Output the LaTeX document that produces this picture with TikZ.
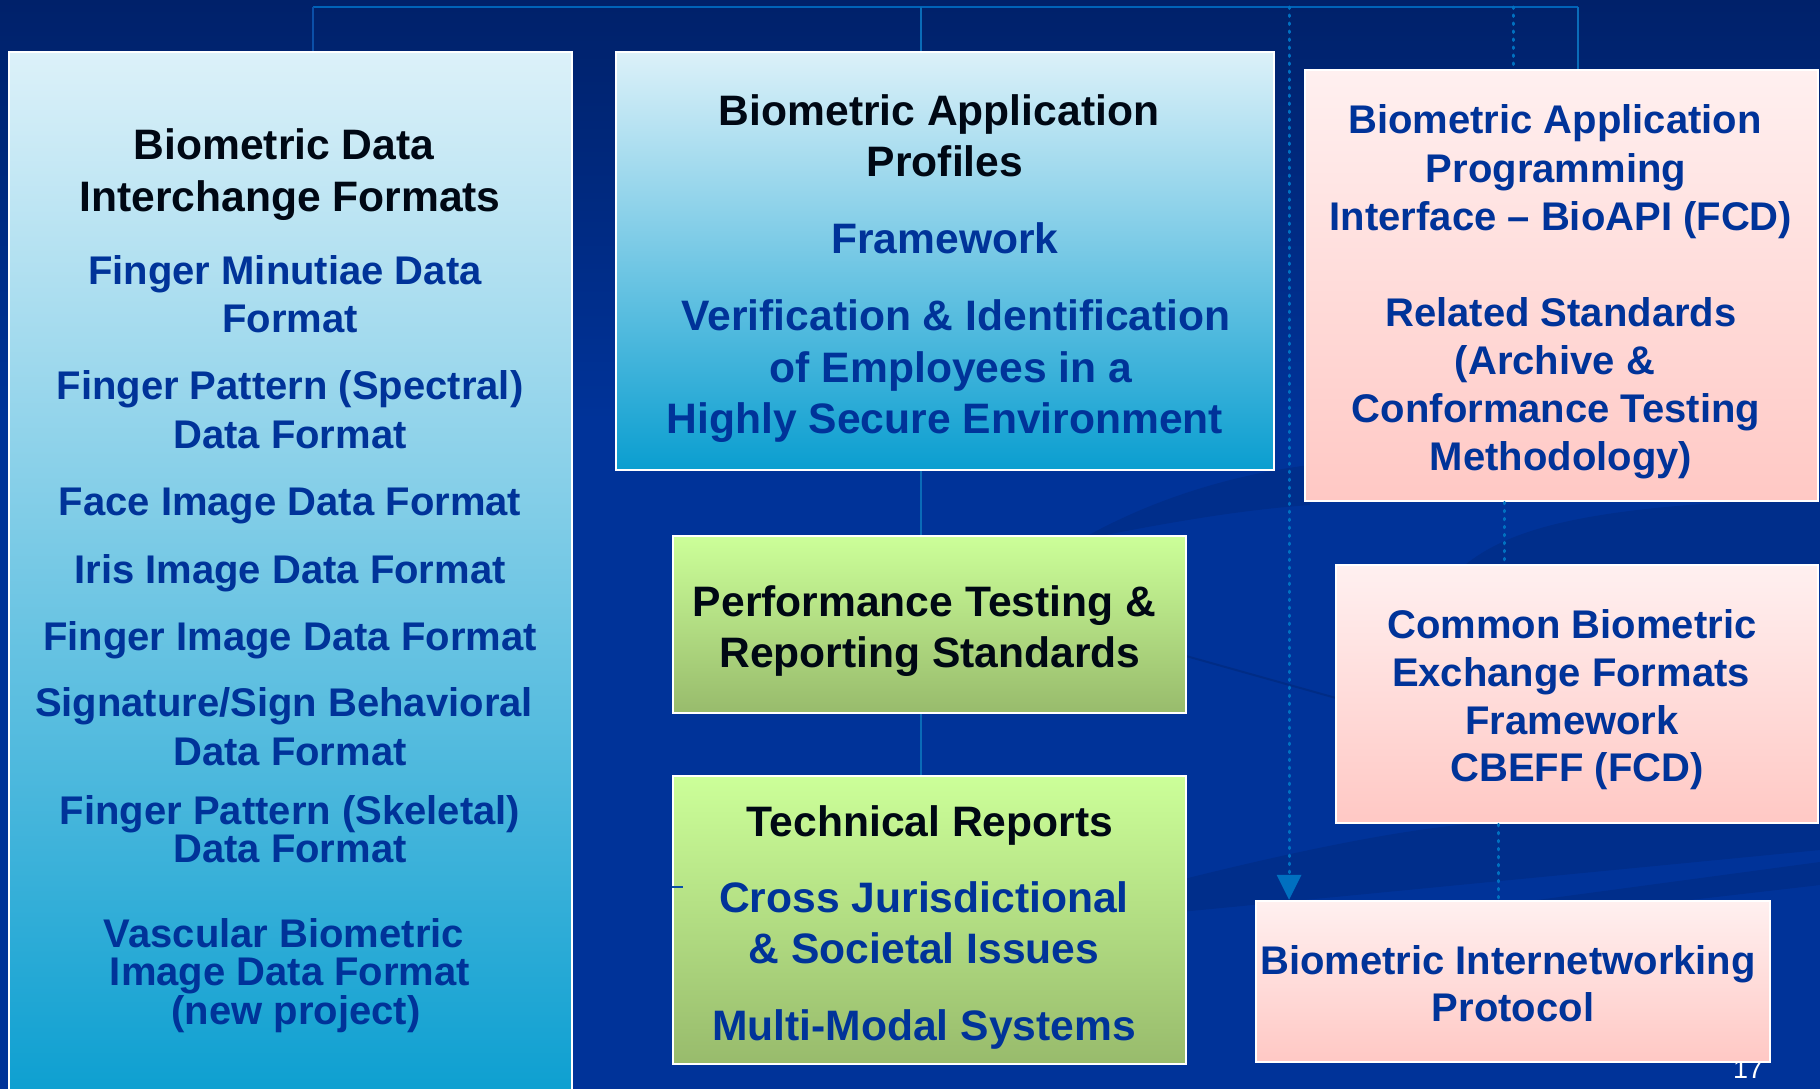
\documentclass[tikz,border=0pt]{standalone}
\usepackage{fontspec}
\setmainfont{Liberation Sans}
\usetikzlibrary{arrows.meta}

\definecolor{bgtop}{HTML}{00216A}
\definecolor{bgmid}{HTML}{003399}
\definecolor{swoosh}{HTML}{00287A}
\definecolor{busblue}{HTML}{0063B8}
\definecolor{linkblue}{HTML}{0A6CB8}
\definecolor{stubblue}{HTML}{0B4FA8}
\definecolor{dotblue}{HTML}{0070C0}
\definecolor{txtblue}{HTML}{003399}
\definecolor{txtblack}{HTML}{000814}
\definecolor{cyanTop}{HTML}{DCF1F9}
\definecolor{cyanBot}{HTML}{0A9ED0}
\definecolor{pinkTop}{HTML}{FFF0F0}
\definecolor{pinkBot}{HTML}{FFC8C4}
\definecolor{greenTop}{HTML}{CCFF99}
\definecolor{greenBot}{HTML}{98BB6C}

\tikzset{
  box/.style={draw=white, line width=2.5pt, inner sep=0pt, rectangle},
  cyanbox/.style={box, top color=cyanTop, bottom color=cyanBot},
  pinkbox/.style={box, top color=pinkTop, bottom color=pinkBot},
  greenbox/.style={box, top color=greenTop, bottom color=greenBot},
  head/.style={anchor=base, inner sep=0pt, text=txtblack,
    font=\bfseries\fontsize{42.6}{48}\selectfont},
  item/.style={anchor=base, inner sep=0pt, text=txtblue,
    font=\bfseries\fontsize{42.6}{48}\selectfont},
  itemS/.style={anchor=base, inner sep=0pt, text=txtblue,
    font=\bfseries\fontsize{40}{46}\selectfont},
  bus/.style={draw=busblue, line width=2.6pt},
  link/.style={draw=linkblue, line width=1.8pt},
  dots/.style={draw=dotblue, line width=3pt, line cap=round,
    dash pattern=on 1.5pt off 6.5pt},
  stub/.style={draw=stubblue, line width=2pt},
  sw/.style={fill=swoosh, opacity=0.45}
}

\begin{document}
\begin{tikzpicture}[x=1pt,y=-1pt]
\useasboundingbox (0,0) rectangle (1820,1089);
\clip (0,0) rectangle (1820,1089);

% backdrop
\fill[bgmid] (0,0) rectangle (1820,1089);
\shade[top color=bgtop, bottom color=bgmid] (0,0) rectangle (1820,420);

% soft swooshes in the backdrop
\path[sw] (1080,540) .. controls (1150,500) and (1230,475) .. (1310,465)
  -- (1310,505) .. controls (1240,510) and (1170,522) .. (1080,540) -- cycle;
\path[sw] (1465,565) .. controls (1520,520) and (1620,505) .. (1820,498)
  -- (1820,565) -- cycle;
\path[sw] (1180,880) .. controls (1300,850) and (1420,825) .. (1500,822)
  .. controls (1620,815) and (1720,808) .. (1820,800)
  -- (1820,850) -- (1180,912) -- cycle;
\path[sw] (1500,905) -- (1820,862) -- (1820,885) -- (1560,915) -- cycle;
\draw[swoosh, line width=2pt, opacity=0.6] (1186,656) -- (1336,698);

% page number (partly under the last box)
\node[anchor=base, inner sep=0pt, text=white,
  font=\fontsize{27}{30}\selectfont] (pg) at (1748,1078) {17};

% boxes
\node[cyanbox, minimum width=563pt, minimum height=1058pt] (fmt) at (290.5,581) {};
\node[cyanbox, minimum width=658pt, minimum height=418pt] (prof) at (945,261) {};
\node[pinkbox, minimum width=513pt, minimum height=431pt] (api) at (1561.5,285.5) {};
\node[greenbox, minimum width=513pt, minimum height=177pt] (perf) at (929.5,624.5) {};
\node[greenbox, minimum width=513pt, minimum height=288pt] (tech) at (929.5,920) {};
\node[pinkbox, minimum width=482pt, minimum height=258pt] (cbeff) at (1577,694) {};
\node[pinkbox, minimum width=514pt, minimum height=161pt] (net) at (1513,981.5) {};

% top bus and its taps
\coordinate (busL) at (313,7);
\coordinate (busR) at (1578,7);
\coordinate (tapP) at (921,7);
\coordinate (tapN) at (1289,7);
\coordinate (tapA) at (1513,7);
\draw[bus] (busL) -- (busR);
\draw[link, draw=stubblue] (busL) -- (busL |- fmt.north);
\draw[link] (tapP) -- (tapP |- prof.north);
\draw[dots] (tapN) -- ([yshift=24pt]tapN |- net.north);
\fill[dotblue] (tapN |- net.north) -- ++(-12.5,-25) -- ++(25,0) -- cycle;
\draw[dots] (tapA) -- (tapA |- api.north);
\draw[link] (busR) -- (busR |- api.north);

% links down the middle column
\draw[link] (prof.south -| tapP) -- (perf.north -| tapP);
\draw[link] (perf.south -| tapP) -- (tech.north -| tapP);

% links down the right column
\coordinate (colA) at (1504,0);
\coordinate (colB) at (1498.5,0);
\draw[dots] (api.south -| colA) -- (cbeff.north -| colA);
\draw[dots] (cbeff.south -| colB) -- (net.north -| colB);

% short stub on the reports box
\coordinate (stubEnd) at (683,887);
\draw[stub] (stubEnd -| tech.west) -- (stubEnd);

% interchange formats
\node[head] (f1) at (284,159) {Biometric Data};
\node[head] (f2) at (290,211) {Interchange Formats};
\node[itemS] (f3) at (285,284) {Finger Minutiae Data};
\node[itemS] (f4) at (290,332) {Format};
\node[itemS] (f5) at (290,399) {Finger Pattern (Spectral)};
\node[itemS] (f6) at (290,448) {Data Format};
\node[itemS] (f7) at (290,515) {Face Image Data Format};
\node[itemS] (f8) at (290,583) {Iris Image Data Format};
\node[itemS] (f9) at (290,650) {Finger Image Data Format};
\node[itemS] (f10) at (284,716) {Signature/Sign Behavioral};
\node[itemS] (f11) at (290,765) {Data Format};
\node[itemS] (f12) at (290,824) {Finger Pattern (Skeletal)};
\node[itemS] (f13) at (290,862) {Data Format};
\node[itemS] (f14) at (284,947) {Vascular Biometric};
\node[itemS] (f15) at (290,985) {Image Data Format};
\node[itemS] (f16) at (296,1024) {(new project)};

% application profiles
\node[head] (p1) at (939,125) {Biometric Application};
\node[head] (p2) at (945,176) {Profiles};
\node[item] (p3) at (945,253) {Framework};
\node[item] (p4) at (956,330) {Verification \& Identification};
\node[item] (p5) at (951,382) {of Employees in a};
\node[item] (p6) at (945,433) {Highly Secure Environment};

% BioAPI
\node[itemS] (a1) at (1555,134) {Biometric Application};
\node[itemS] (a2) at (1556,182) {Programming};
\node[itemS] (a3) at (1561,230) {Interface – BioAPI (FCD)};
\node[itemS] (a4) at (1561,326) {Related Standards};
\node[itemS] (a5) at (1555,374) {(Archive \&};
\node[itemS] (a6) at (1556,422) {Conformance Testing};
\node[itemS] (a7) at (1561,470) {Methodology)};

% performance testing
\node[head] (t1) at (924.5,616) {Performance Testing \&};
\node[head] (t2) at (930,667) {Reporting Standards};

% technical reports
\node[head] (r1) at (930,836) {Technical Reports};
\node[item] (r2) at (924,912) {Cross Jurisdictional};
\node[item] (r3) at (924,963) {\& Societal Issues};
\node[item] (r4) at (924,1040) {Multi-Modal Systems};

% CBEFF
\node[itemS] (c1) at (1572,638) {Common Biometric};
\node[itemS] (c2) at (1571,686) {Exchange Formats};
\node[itemS] (c3) at (1572,734) {Framework};
\node[itemS] (c4) at (1577,781) {CBEFF (FCD)};

% internetworking
\node[itemS] (n1) at (1508,974) {Biometric Internetworking};
\node[itemS] (n2) at (1513,1021) {Protocol};
\end{tikzpicture}
\end{document}
